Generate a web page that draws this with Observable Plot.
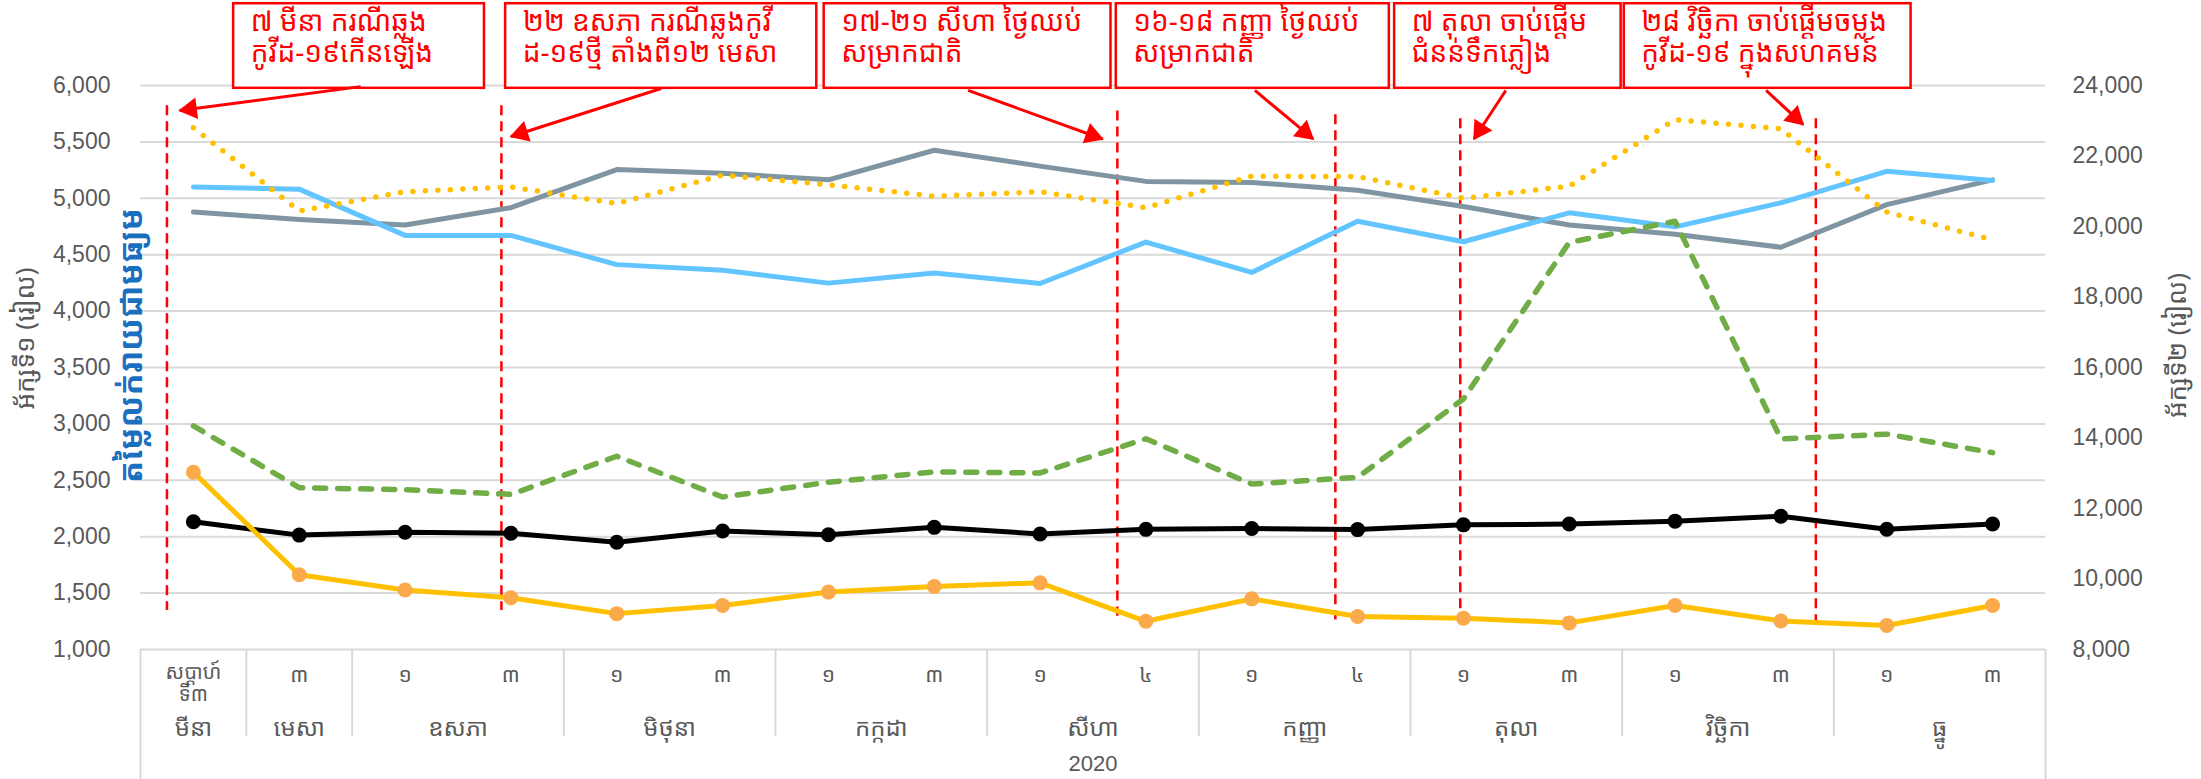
<!DOCTYPE html>
<html>
<head>
<meta charset="utf-8">
<script src="https://cdn.jsdelivr.net/npm/d3@7"></script>
<script src="https://cdn.jsdelivr.net/npm/@observablehq/plot@0.6"></script>
<style>
  html, body { margin: 0; padding: 0; background: #fff; }
  #chart svg { display: block; }
</style>
</head>
<body>
<div id="chart"></div>
<script>
// ---------- data ----------
const weekLabels = ["សប្តាហ៍\nទី៣", "៣", "១", "៣", "១", "៣", "១", "៣", "១", "៤", "១", "៤", "១", "៣", "១", "៣", "១", "៣"];
const monthLabels = ["មីនា", "មេសា", "ឧសភា", "មិថុនា", "កក្កដា", "សីហា", "កញ្ញា", "តុលា", "វិច្ឆិកា", "ធ្នូ"];
const monthCenters = [0, 1, 2.5, 4.5, 6.5, 8.5, 10.5, 12.5, 14.5, 16.5];
const monthBounds = [0.5, 1.5, 3.5, 5.5, 7.5, 9.5, 11.5, 13.5, 15.5];
const yearLabel = "2020";

const blackSeries     = [2132, 2014, 2040, 2030, 1951, 2050, 2017, 2083, 2024, 2065, 2073, 2063, 2105, 2112, 2138, 2181, 2066, 2112];
const orangeSeries    = [2572, 1663, 1528, 1459, 1318, 1390, 1509, 1558, 1591, 1250, 1449, 1292, 1278, 1236, 1390, 1253, 1213, 1390];
const greenSeries     = [2982, 2434, 2417, 2375, 2713, 2352, 2483, 2575, 2565, 2868, 2467, 2526, 3221, 4609, 4796, 2867, 2909, 2745];
const graySeries      = [4878, 4812, 4763, 4917, 5255, 5222, 5164, 5426, 5285, 5150, 5140, 5071, 4927, 4763, 4681, 4566, 4944, 5163];
const lightBlueSeries = [5101, 5081, 4671, 4671, 4412, 4363, 4248, 4337, 4245, 4612, 4343, 4796, 4615, 4871, 4747, 4960, 5239, 5157];
const dottedSeries    = [5626, 4888, 5058, 5101, 4953, 5206, 5120, 5019, 5058, 4917, 5196, 5192, 5000, 5108, 5698, 5616, 4878, 4632];

const leftTicks  = [1000, 1500, 2000, 2500, 3000, 3500, 4000, 4500, 5000, 5500, 6000];
const rightTicks = [8000, 10000, 12000, 14000, 16000, 18000, 20000, 22000, 24000];

const leftTitle  = "អ័ក្សទី១ (រៀល)";
const rightTitle = "អ័ក្សទី២ (រៀល)";
const mainTitle  = "តម្លៃលក់រាយជាមធ្យម";

// event markers (position in week-index units, top and bottom value)
const eventX      = [-0.25, 2.91, 8.73, 10.79, 11.97, 15.33];
const eventTop    = [5820, 5820, 5775, 5740, 5705, 5705];
const eventBottom = [1345, 1345, 1295, 1262, 1220, 1220];

// annotation boxes
const noteTexts = [
  "៧ មីនា ករណីឆ្លង\nកូវីដ-១៩កើនឡើង",
  "២២ ឧសភា ករណីឆ្លងកូវី\nដ-១៩ថ្មី តាំងពី១២ មេសា",
  "១៧-២១ សីហា ថ្ងៃឈប់\nសម្រាកជាតិ",
  "១៦-១៨ កញ្ញា ថ្ងៃឈប់\nសម្រាកជាតិ",
  "៧ តុលា ចាប់ផ្តើម\nជំនន់ទឹកភ្លៀង",
  "២៨ វិច្ឆិកា ចាប់ផ្តើមចម្លង\nកូវីដ-១៩ ក្នុងសហគមន៍"
];
const noteX1 = [0.38, 2.95, 5.96, 8.72, 11.35, 13.52];
const noteX2 = [2.75, 5.89, 8.67, 11.30, 13.49, 16.23];
const noteBottom = 5975;
const noteTop = 6725;
// arrows: start (box edge) -> tip
const arrowX1 = [1.58, 4.42, 7.32, 10.03, 12.40, 14.86];
const arrowY1 = [5990, 5973, 5956, 5956, 5956, 5956];
const arrowX2 = [-0.13, 3.00, 8.59, 10.58, 12.10, 15.21];
const arrowY2 = [5778, 5548, 5526, 5526, 5526, 5654];

// ---------- layout ----------
const W = 2201, H = 779;
const mL = 140, mR = 156, mT = 85, mB = 130;
const xDomain = [-0.5, 17.5], yDomain = [1000, 6000];
const xs = d3.scaleLinear(xDomain, [mL, W - mR]);
const ys = d3.scaleLinear(yDomain, [H - mB, mT]);
const rightToLeft = d3.scaleLinear([8000, 24000], [1000, 6000]);

const khmer = "'Khmer OS Siemreap','Khmer OS Battambang','Khmer OS','Noto Sans Khmer','Noto Serif Khmer','Hanuman','DejaVu Sans',sans-serif";
const latin = "'Liberation Sans', Arial, sans-serif";
const grid = "#d9d9d9";
const labelColor = "#595959";

const idx = d3.range(weekLabels.length);
const toRows = (vals) => vals.map((v, i) => ({i, v}));

const events = eventX.map((x, k) => ({x, top: eventTop[k], bottom: eventBottom[k]}));
const notes = noteTexts.map((t, k) => ({t, x1: noteX1[k], x2: noteX2[k], y1: noteBottom, y2: noteTop}));
const arrows = arrowX1.map((x, k) => ({x1: x, y1: arrowY1[k], x2: arrowX2[k], y2: arrowY2[k]}));
// arrowhead centres and rotations computed in pixel space through the same scales
const headBack = 11;
const heads = arrows.map(a => {
  const px1 = xs(a.x1), py1 = ys(a.y1), px2 = xs(a.x2), py2 = ys(a.y2);
  const dx = px2 - px1, dy = py2 - py1, len = Math.hypot(dx, dy);
  const ux = dx / len, uy = dy / len;
  return {
    x: xs.invert(px2 - ux * headBack),
    y: ys.invert(py2 - uy * headBack),
    rot: Math.atan2(dx, -dy) * 180 / Math.PI
  };
});

const tableSeps = [
  {x: -0.5, y2: -160}, {x: 17.5, y2: -160},
  ...monthBounds.map(x => ({x, y2: 228}))
];

const singleWeeks = idx.filter(i => !weekLabels[i].includes("\n"));
const multiWeeks = idx.filter(i => weekLabels[i].includes("\n"));

const fmt = d3.format(",");

const plot = Plot.plot({
  width: W, height: H,
  marginLeft: mL, marginRight: mR, marginTop: mT, marginBottom: mB,
  x: {domain: xDomain, axis: null},
  y: {domain: yDomain, axis: null},
  style: {background: "#fff", overflow: "visible"},
  marks: [
    // gridlines
    Plot.ruleY(leftTicks, {y: d => d, x1: xDomain[0], x2: xDomain[1], stroke: grid, strokeWidth: 2}),
    // category table separators
    Plot.ruleX(tableSeps, {x: "x", y1: 1000, y2: "y2", stroke: grid, strokeWidth: 2}),
    // event lines
    Plot.ruleX(events, {x: "x", y1: "top", y2: "bottom", stroke: "#ff0000", strokeWidth: 2.5, strokeDasharray: "10,6"}),
    // series
    Plot.line(toRows(graySeries), {x: "i", y: "v", stroke: "#7f95a1", strokeWidth: 5}),
    Plot.line(toRows(lightBlueSeries), {x: "i", y: "v", stroke: "#63c5ff", strokeWidth: 5}),
    Plot.line(toRows(dottedSeries), {x: "i", y: "v", stroke: "#ffc000", strokeWidth: 5.5, strokeDasharray: "0,12.5", strokeLinecap: "round"}),
    Plot.line(toRows(greenSeries), {x: "i", y: "v", stroke: "#70ad47", strokeWidth: 5.5, strokeDasharray: "11,12", strokeLinecap: "round"}),
    Plot.line(toRows(blackSeries), {x: "i", y: "v", stroke: "#000", strokeWidth: 5}),
    Plot.dot(toRows(blackSeries), {x: "i", y: "v", r: 7.5, fill: "#000"}),
    Plot.line(toRows(orangeSeries), {x: "i", y: "v", stroke: "#ffc000", strokeWidth: 5}),
    Plot.dot(toRows(orangeSeries), {x: "i", y: "v", r: 7.5, fill: "#fbaa4b"}),
    // annotation boxes
    Plot.rect(notes, {x1: "x1", x2: "x2", y1: "y1", y2: "y2", fill: "#fff", stroke: "#ff0000", strokeWidth: 2.5}),
    Plot.text(notes, {x: "x1", y: "y2", text: "t", textAnchor: "start", lineAnchor: "top", dx: 17, dy: 5,
      fontSize: 28, lineHeight: 1.12, fill: "#ff0000", fontFamily: khmer}),
    // arrows
    Plot.link(arrows, {x1: "x1", y1: "y1", x2: "x2", y2: "y2", stroke: "#ff0000", strokeWidth: 3}),
    Plot.dot(heads, {x: "x", y: "y", symbol: "triangle", r: 8, rotate: "rot", fill: "#ff0000", stroke: "none"}),
    // left axis
    Plot.text(leftTicks, {y: d => d, frameAnchor: "left", textAnchor: "end", dx: -30, text: d => fmt(d),
      fontSize: 23, fill: labelColor, fontFamily: latin}),
    // right axis
    Plot.text(rightTicks, {y: d => rightToLeft(d), frameAnchor: "right", textAnchor: "start", dx: 27, text: d => fmt(d),
      fontSize: 23, fill: labelColor, fontFamily: latin}),
    // axis titles
    Plot.text([leftTitle], {frameAnchor: "left", textAnchor: "middle", dx: -115, dy: -29, rotate: -90, text: d => d,
      fontSize: 26, fill: labelColor, fontFamily: khmer}),
    Plot.text([mainTitle], {frameAnchor: "left", textAnchor: "middle", dx: -9, dy: -22, rotate: -90, text: d => d,
      fontSize: 33, fontWeight: "bold", fill: "#1a6fbf", fontFamily: khmer}),
    Plot.text([rightTitle], {frameAnchor: "right", textAnchor: "middle", dx: 132, dy: -22, rotate: -90, text: d => d,
      fontSize: 26, fill: labelColor, fontFamily: khmer}),
    // category table text
    Plot.text(singleWeeks, {x: d => d, frameAnchor: "bottom", lineAnchor: "middle", dy: 26, text: d => weekLabels[d],
      fontSize: 21, fill: labelColor, fontFamily: khmer}),
    Plot.text(multiWeeks, {x: d => d, frameAnchor: "bottom", lineAnchor: "middle", dy: 33, text: d => weekLabels[d],
      fontSize: 20, lineHeight: 1.1, fill: labelColor, fontFamily: khmer}),
    Plot.text(monthCenters, {x: d => d, frameAnchor: "bottom", lineAnchor: "middle", dy: 79, text: (d, k) => monthLabels[k],
      fontSize: 24, fill: labelColor, fontFamily: khmer}),
    Plot.text([yearLabel], {frameAnchor: "bottom", lineAnchor: "middle", dy: 114, text: d => d,
      fontSize: 22, fill: labelColor, fontFamily: latin})
  ]
});
document.getElementById("chart").appendChild(plot);
</script>
</body>
</html>
